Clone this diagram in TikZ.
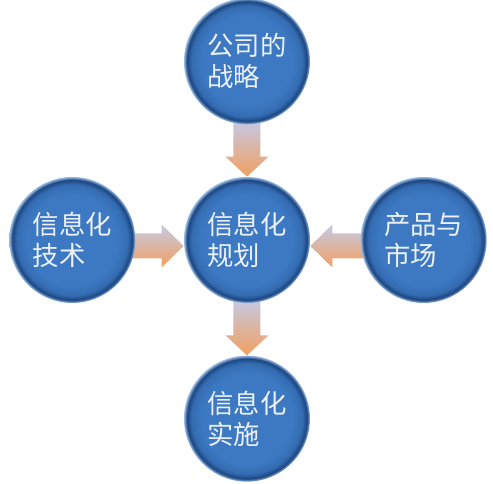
\documentclass[tikz,border=0pt]{standalone}
\usepackage{fontspec}
\newfontfamily\cjk{Noto Sans CJK SC}
\usetikzlibrary{positioning,calc,backgrounds}
\definecolor{ballIn}{RGB}{60,121,194}
\definecolor{ballMid}{RGB}{52,108,178}
\definecolor{ballDark}{RGB}{28,70,128}
\definecolor{ballRim}{RGB}{150,186,228}
\definecolor{arrTop}{RGB}{196,202,230}
\definecolor{arrBot}{RGB}{242,160,96}
\definecolor{ballText}{RGB}{236,240,248}
\pgfdeclareradialshading{ballshade}{\pgfpoint{0bp}{0bp}}{%
  color(0bp)=(ballIn); color(18bp)=(ballIn); color(22bp)=(ballMid);
  color(23.8bp)=(ballDark); color(25bp)=(ballRim); color(50bp)=(ballRim)}
\tikzset{
  ball/.style={circle,shade,shading=ballshade,minimum size=2.52cm,inner sep=0pt,
               font=\cjk\fontsize{15}{17.5}\selectfont,text=ballText,align=left},
  blkarr/.style={top color=arrTop,bottom color=arrBot,draw=none},
}
\begin{document}
\begin{tikzpicture}[node distance=1.04cm and 1cm]
  \useasboundingbox (-4.94,-4.88) rectangle (4.92,4.80);
  \node[ball] (c) at (0,0) {信息化\\规划};
  \node[ball,above=of c] (t) {公司的\\战略};
  \node[ball,below=of c] (b) {信息化\\实施};
  \node[ball,left=0.96cm of c] (l) {信息化\\技术};
  \node[ball,right=of c] (r) {产品与\\市场};
  \begin{scope}[on background layer]
    % downward arrows
    \foreach \s/\e in {t/c,c/b}
      \path[blkarr] ($(\s.south)+(-.27,.1)$) -- ($(\e.north)+(-.27,.4)$) -- ++(-.16,0)
        -- (\e.north) -- ++(.43,.4) -- ++(-.16,0) -- ($(\s.south)+(.27,.1)$) -- cycle;
    % sideways arrows into the centre
    \foreach \s/\sa/\ea/\d in {l/east/west/1,r/west/east/-1}
      \path[blkarr] ($(\s.\sa)+({\d*(-.1)},.13)$) -- ($(c.\ea)+({\d*(-.44)},.13)$) -- ++(0,.18)
        -- ($(c.\ea)+(0,-.12)$) -- ($(c.\ea)+({\d*(-.44)},-.55)$) -- ++(0,.18)
        -- ($(\s.\sa)+({\d*(-.1)},-.37)$) -- cycle;
  \end{scope}
\end{tikzpicture}
\end{document}
